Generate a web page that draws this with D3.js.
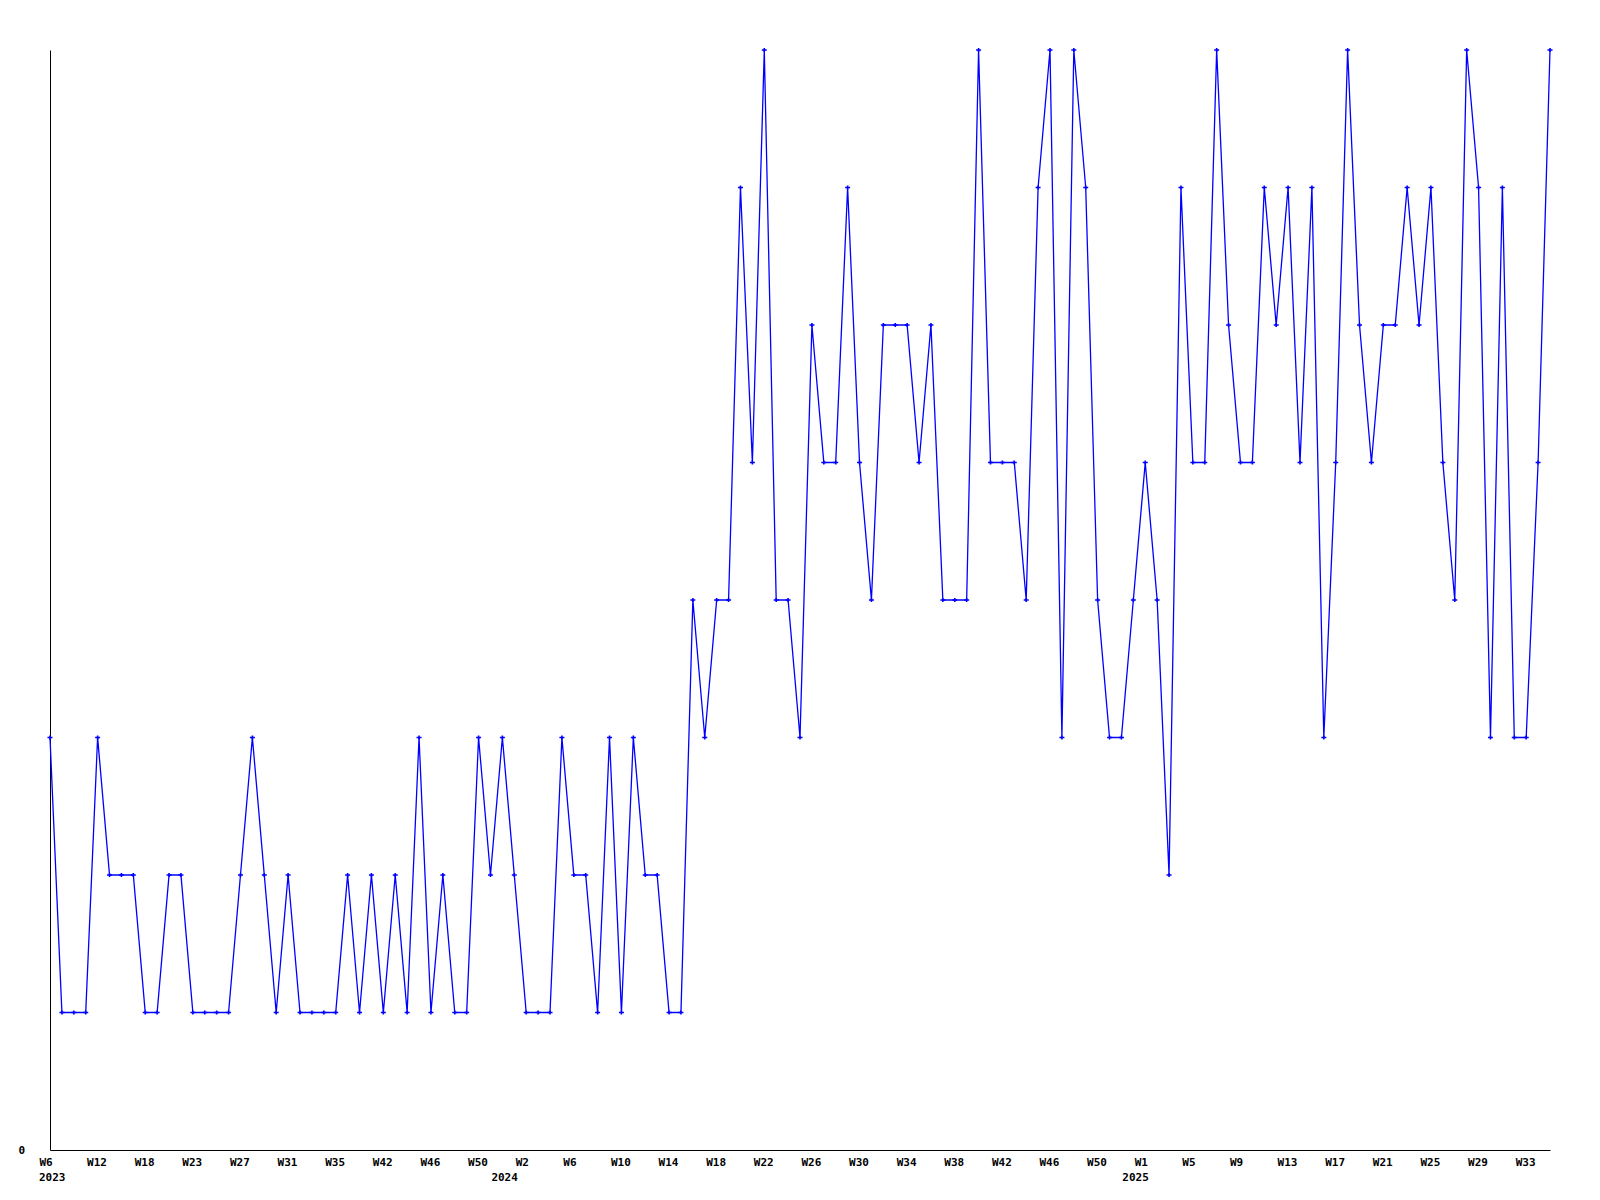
<!DOCTYPE html>
<html>
<head>
<meta charset="utf-8">
<script src="https://cdn.jsdelivr.net/npm/d3@7/dist/d3.min.js"></script>
<style>
  html, body { margin: 0; padding: 0; background: #fff; }
  svg { display: block; }
  text { font-family: "DejaVu Sans Mono", monospace; font-weight: bold; font-size: 11px; fill: #000; }
</style>
</head>
<body>
<svg id="chart" width="1600" height="1200"></svg>
<script>
// Weekly series, one value per plotted week (2023 W6 … 2025 W35)
const values = [
  3,1,1,1,3,2,2,2,1,1,2,2,1,1,1,1,2,3,2,1,
  2,1,1,1,1,2,1,2,1,2,1,3,1,2,1,1,3,2,3,2,
  1,1,1,3,2,2,1,3,1,3,2,2,1,1,4,3,4,4,7,5,
  8,4,4,3,6,5,5,7,5,4,6,6,6,5,6,4,4,4,8,5,
  5,5,4,7,8,3,8,7,4,3,3,4,5,4,2,7,5,5,8,6,
  5,5,7,6,7,5,7,3,5,8,6,5,6,6,7,6,7,5,4,8,
  7,3,7,3,3,5,8
];
// Tick labels shown every 4th point
const tickLabels = ["W6","W12","W18","W23","W27","W31","W35","W42","W46","W50",
  "W2","W6","W10","W14","W18","W22","W26","W30","W34","W38","W42","W46","W50",
  "W1","W5","W9","W13","W17","W21","W25","W29","W33"];
const tickStep = 4;
const yearLabels = ["2023","2024","2025"];
const yearPointIndex = [0, 38, 91]; // first plotted point of each year
const yTicks = [0];
const yMax = 8;

(function () {
const svg = d3.select("#chart");
const mLeft = 50, mRight = 1550, mTop = 50, mBottom = 1150;

const idx = values.map((d, i) => i);
const x = d3.scalePoint().domain(idx).range([mLeft, mRight]);
const y = d3.scaleLinear().domain([0, yMax]).range([mBottom, mTop]);

const tickIdx = tickLabels.map((d, i) => i * tickStep);

// X axis
const xAxis = d3.axisBottom(x)
  .tickValues(tickIdx)
  .tickFormat((d) => tickLabels[d / tickStep])
  .tickSize(0).tickSizeOuter(0).tickPadding(8);
const gx = svg.append("g").attr("transform", `translate(0,${mBottom})`).call(xAxis);
gx.select(".domain").attr("stroke", "#000").attr("stroke-width", 1);
gx.selectAll("text")
  .attr("text-anchor", "start")
  .attr("dx", -11)
  .style("font-family", "DejaVu Sans Mono").style("font-weight", "bold").style("font-size", "11px");

// Year row
svg.append("g").selectAll("text").data(yearLabels).join("text")
  .attr("x", (d, i) => x(yearPointIndex[i]) - 11)
  .attr("y", mBottom + 31)
  .attr("text-anchor", "start")
  .text(d => d);

// Y axis
const yAxis = d3.axisLeft(y).tickValues(yTicks).tickFormat(d3.format("d"))
  .tickSize(0).tickSizeOuter(0).tickPadding(25);
const gy = svg.append("g").attr("transform", `translate(${mLeft},0)`).call(yAxis);
gy.select(".domain").attr("stroke", "#000").attr("stroke-width", 1);
gy.selectAll("text")
  .style("font-family", "DejaVu Sans Mono").style("font-weight", "bold").style("font-size", "11px");

// Line
const line = d3.line().x((d, i) => x(i)).y(d => y(d));
svg.append("path")
  .datum(values)
  .attr("fill", "none")
  .attr("stroke", "#0000ff")
  .attr("stroke-width", 1.3)
  .attr("d", line);

// Markers (small plus/diamond)
svg.append("g").selectAll("path").data(values).join("path")
  .attr("transform", (d, i) => `translate(${x(i)},${y(d)})`)
  .attr("d", "M-2.5,-0.8H2.5V0.8H-2.5Z M-0.8,-2H0.8V2H-0.8Z")
  .attr("fill", "#0000ff");
})();
</script>
</body>
</html>
